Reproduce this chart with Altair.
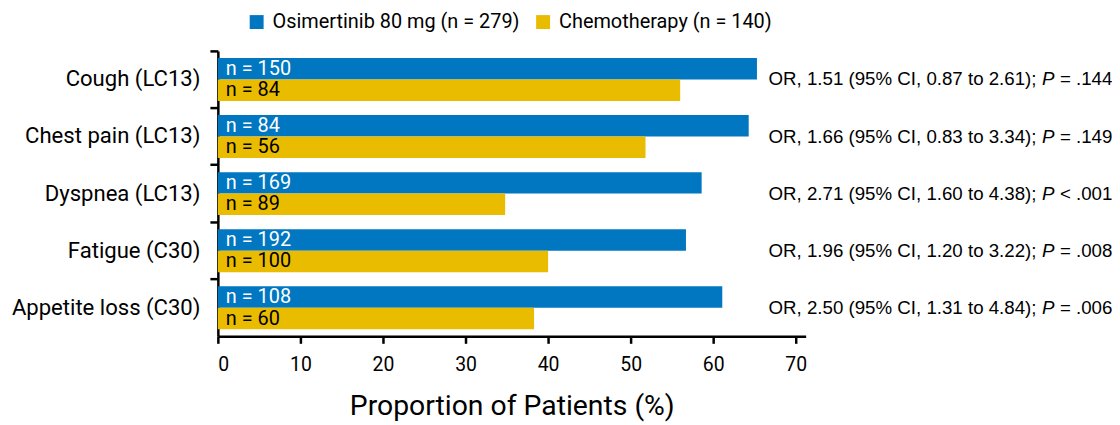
import altair as alt
import pandas as pd

symptoms = ["Cough (LC13)", "Chest pain (LC13)", "Dyspnea (LC13)", "Fatigue (C30)", "Appetite loss (C30)"]
groups = ["Osimertinib 80 mg (n = 279)", "Chemotherapy (n = 140)"]
osi_pct = [65.3, 64.3, 58.6, 56.7, 61.1]
chemo_pct = [56.0, 51.8, 34.8, 40.0, 38.3]
osi_n = [150, 84, 169, 192, 108]
chemo_n = [84, 56, 89, 100, 60]
or_text = [
    "OR, 1.51 (95% CI, 0.87 to 2.61);",
    "OR, 1.66 (95% CI, 0.83 to 3.34);",
    "OR, 2.71 (95% CI, 1.60 to 4.38);",
    "OR, 1.96 (95% CI, 1.20 to 3.22);",
    "OR, 2.50 (95% CI, 1.31 to 4.84);",
]
p_text = ["= .144", "= .149", "< .001", "= .008", "= .006"]
x_ticks = [0, 10, 20, 30, 40, 50, 60, 70]

BLUE = "#0077C0"
YELLOW = "#E9BC00"
FONT = "Roboto"
OR_FONT = "Liberation Sans"
OR_SIZE = 18.8

rows = []
for i, s in enumerate(symptoms):
    rows.append({"symptom": s, "group": groups[0], "pct": osi_pct[i], "label": f"n = {osi_n[i]}", "tcolor": "white"})
    rows.append({"symptom": s, "group": groups[1], "pct": chemo_pct[i], "label": f"n = {chemo_n[i]}", "tcolor": "black"})
bars_df = pd.DataFrame(rows)
or_df = pd.DataFrame({"symptom": symptoms, "ortext": or_text, "ptext": p_text})

xscale = alt.Scale(domain=[0, 71.2], nice=False)
yscale = alt.Scale(range=[10, 297], paddingInner=0, paddingOuter=0)
yoff = alt.YOffset("group:N", sort=groups, scale=alt.Scale(paddingOuter=0.33, paddingInner=0))

base = alt.Chart(bars_df)

bars = base.mark_bar().encode(
    x=alt.X("pct:Q", scale=xscale,
            axis=alt.Axis(values=x_ticks, title="Proportion of Patients (%)", grid=False,
                          domainColor="black", domainWidth=2.5, tickColor="black", tickWidth=2.5,
                          tickSize=7, labelFontSize=19.5, labelFont=FONT, labelColor="black",
                          labelPadding=12, titleFont=FONT, titleFontSize=28.5, titleFontWeight="normal",
                          titleColor="black", titlePadding=18)),
    y=alt.Y("symptom:N", sort=symptoms, scale=yscale,
            axis=alt.Axis(title=None, bandPosition=0, domainColor="black", domainWidth=2.5,
                          tickColor="black", tickWidth=2.5, tickSize=8, labelFontSize=22.2,
                          labelFont=FONT, labelColor="black", labelPadding=10, labelLimit=400)),
    yOffset=yoff,
    color=alt.Color("group:N", sort=groups, scale=alt.Scale(domain=groups, range=[BLUE, YELLOW]),
                    legend=alt.Legend(title=None, orient="none", legendX=29, legendY=-29,
                                      direction="horizontal", symbolType="square", symbolSize=196,
                                      symbolStrokeWidth=0, labelFont=FONT, labelFontSize=20,
                                      labelColor="black", columnPadding=13, labelOffset=6,
                                      labelLimit=400)),
)

nlabels = base.mark_text(align="left", baseline="middle", dx=8, font=FONT, fontSize=20).encode(
    x=alt.datum(0, scale=xscale),
    y=alt.Y("symptom:N", sort=symptoms, scale=yscale),
    yOffset=yoff,
    text="label:N",
    color=alt.Color("tcolor:N", scale=None),
)

or_base = alt.Chart(or_df)
or_main = or_base.mark_text(align="left", baseline="middle", font=OR_FONT, fontSize=OR_SIZE, color="black").encode(
    x=alt.datum(66.7, scale=xscale),
    y=alt.Y("symptom:N", sort=symptoms, scale=yscale),
    text="ortext:N",
)
or_p = or_base.mark_text(align="left", baseline="middle", font=OR_FONT, fontSize=OR_SIZE,
                         fontStyle="italic", color="black", dx=275).encode(
    x=alt.datum(66.7, scale=xscale),
    y=alt.Y("symptom:N", sort=symptoms, scale=yscale),
    text=alt.value("P"),
)
or_s = or_base.mark_text(align="left", baseline="middle", font=OR_FONT, fontSize=OR_SIZE,
                         color="black", dx=293).encode(
    x=alt.datum(66.7, scale=xscale),
    y=alt.Y("symptom:N", sort=symptoms, scale=yscale),
    text="ptext:N",
)

chart = alt.layer(bars, nlabels, or_main, or_p, or_s).properties(
    width=591, height=297,
    autosize=alt.AutoSizeParams(type="none"),
    padding={"left": 211, "top": 32, "right": 308, "bottom": 88},
).configure_view(stroke=None)

chart.save("out.html", embed_options={"renderer": "svg", "actions": False})
